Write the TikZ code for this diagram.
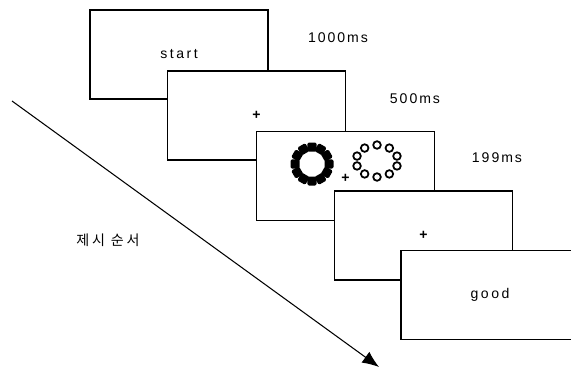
\documentclass[tikz,border=0pt]{standalone}
\usepackage{fontspec}
\setmainfont{Liberation Sans}
\newfontfamily\cjk{Noto Sans CJK KR}
\usetikzlibrary{arrows.meta}
\tikzset{
  screen/.style={draw, line width=1.1pt, fill=white, minimum width=5.34cm, minimum height=2.67cm, inner sep=0pt},
  durlabel/.style={font=\fontsize{12}{14}\selectfont\addfontfeature{LetterSpace=14}, inner sep=1pt},
  cue/.style={font=\fontsize{12}{14}\selectfont\addfontfeature{LetterSpace=18}, inner sep=1pt},
  fixmark/.style={font=\fontsize{12}{14}\selectfont\bfseries, inner sep=0pt},
  orderarrow/.style={-{Latex[length=5mm, width=4mm]}, line width=0.9pt}
}

\begin{document}
\begin{tikzpicture}[x=0.03cm, y=-0.03cm]
  \clip (0,0) rectangle (571,369);
  % sequence of screens, back to front
  \node[screen] (s1) at (179,54.5) {};
  \node[cue] (start) at (s1.center) {start};
  \node[screen] (s2) at (256.5,115.5) {};
  \node[fixmark] (fix2) at (s2.center) {+};
  \node[screen] (s3) at (345.5,176) {};
  \node[fixmark] (fix3) at ([yshift=-0.06cm]s3.center) {+};
  % filled ring (left) and open ring (right)
  \foreach \a in {0,30,...,330}
    \fill[shift={(312,164)}, rotate=\a, rounded corners=1.2pt] (12.5,-4.6) rectangle (21.5,4.6);
  \foreach \a in {90,126,...,414}
    \draw[line width=1.5pt] (377,161) ++(\a:21 and 16) circle[radius=3.8];
  \node[screen] (s4) at (423.5,235.5) {};
  \node[fixmark] (fix4) at (s4.center) {+};
  \node[screen] (s5) at (490,295) {};
  \node[cue] (good) at (s5.center) {good};
  % durations
  \node[durlabel] (d1) at (338,38) {1000ms};
  \node[durlabel] (d2) at (415,99) {500ms};
  \node[durlabel] (d3) at (497,158) {199ms};
  % presentation order
  \coordinate (o1) at (12,101);
  \coordinate (o2) at (379,367);
  \draw[orderarrow] (o1) -- (o2);
  \node[font=\cjk\fontsize{12}{14}\selectfont\addfontfeature{LetterSpace=20}] (order) at (108,240) {제시 순서};
\end{tikzpicture}
\end{document}
